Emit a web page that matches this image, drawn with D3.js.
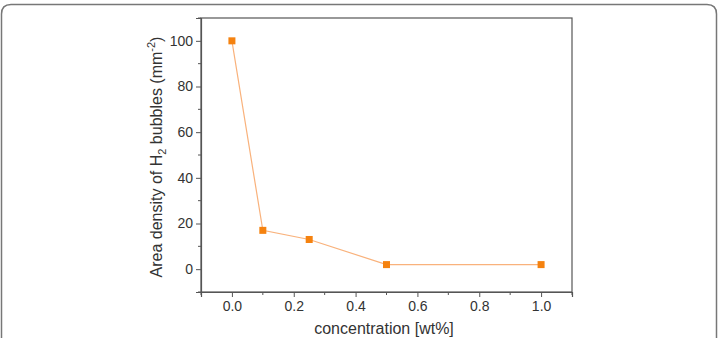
<!DOCTYPE html>
<html>
<head lang="en">
    <meta charset="UTF-8">
    <title>d3</title>
    <style>
        body { margin: 0; background: #fff; }
        text { font-family: "Liberation Sans", Arial, sans-serif; fill: #333; }
    </style>
</head>
<body>
<svg width="719" height="338"></svg>

<script src="https://cdn.jsdelivr.net/npm/d3@7"></script>
<script>
    var concentration = [0, 0.1, 0.25, 0.5, 1.0];
    var density = [100, 17, 13, 2, 2];
    var xTicks = [0, 0.2, 0.4, 0.6, 0.8, 1.0];
    var yTicks = [0, 20, 40, 60, 80, 100];

    var svg = d3.select("svg");

    // outer panel frame with rounded top corners
    svg.append("path")
            .attr("d", "M1.5,345 L1.5,14 Q1.5,4.5 11,4.5 L707,4.5 Q716.5,4.5 716.5,14 L716.5,345")
            .attr("fill", "none")
            .attr("stroke", "#777")
            .attr("stroke-width", 1.5);

    var pLeft = 201, pTop = 18, pRight = 572, pBottom = 292;

    var x = d3.scaleLinear().domain([-0.1, 1.1]).range([pLeft, pRight]);
    var y = d3.scaleLinear().domain([-10, 110]).range([pBottom, pTop]);

    // frame
    svg.append("rect")
            .attr("x", pLeft).attr("y", pTop)
            .attr("width", pRight - pLeft).attr("height", pBottom - pTop)
            .attr("fill", "none").attr("stroke", "#555").attr("stroke-width", 1.2);

    var xAxis = d3.axisBottom(x).tickValues(xTicks).tickFormat(d3.format(".1f")).tickSize(5).tickPadding(4);
    var yAxis = d3.axisLeft(y).tickValues(yTicks).tickFormat(d3.format("d")).tickSize(5).tickPadding(3);

    var gx = svg.append("g").attr("transform", "translate(0," + pBottom + ")").call(xAxis);
    var gy = svg.append("g").attr("transform", "translate(" + pLeft + ",0)").call(yAxis);

    // minor ticks
    gx.selectAll(".minor").data(d3.range(-0.1, 1.15, 0.2)).enter().append("line")
            .attr("x1", function (d) { return x(d); }).attr("x2", function (d) { return x(d); })
            .attr("y1", 0).attr("y2", 3).attr("stroke", "#555");
    gy.selectAll(".minor").data(d3.range(-10, 115, 20)).enter().append("line")
            .attr("y1", function (d) { return y(d); }).attr("y2", function (d) { return y(d); })
            .attr("x1", 0).attr("x2", -3).attr("stroke", "#555");

    [gx, gy].forEach(function (g) {
        g.select(".domain").attr("stroke", "#555").attr("stroke-width", 1.2);
        g.selectAll(".tick line").attr("stroke", "#555");
        g.selectAll(".tick text").attr("font-size", "14px").style("fill", "#333")
                .attr("font-family", "Liberation Sans, Arial, sans-serif");
    });

    var pts = concentration.map(function (c, i) { return [c, density[i]]; });

    svg.append("path")
            .datum(pts)
            .attr("fill", "none")
            .attr("stroke", "#f9b27c")
            .attr("stroke-width", 1.2)
            .attr("d", d3.line().x(function (d) { return x(d[0]); }).y(function (d) { return y(d[1]); }));

    svg.selectAll(".pt").data(pts).enter().append("rect")
            .attr("x", function (d) { return x(d[0]) - 3.5; })
            .attr("y", function (d) { return y(d[1]) - 3.5; })
            .attr("width", 7).attr("height", 7)
            .attr("fill", "#f5820f");

    svg.append("text")
            .attr("x", 384).attr("y", 334)
            .attr("text-anchor", "middle").attr("font-size", "16px")
            .text("concentration [wt%]");

    var yl = svg.append("text")
            .attr("transform", "translate(162,157) rotate(-90)")
            .attr("text-anchor", "middle").attr("font-size", "16px");
    yl.append("tspan").text("Area density of H");
    yl.append("tspan").attr("font-size", "11px").attr("dy", 4).text("2");
    yl.append("tspan").attr("dy", -4).text(" bubbles (mm");
    yl.append("tspan").attr("font-size", "11px").attr("dy", -7).text("-2");
    yl.append("tspan").attr("dy", 7).text(")");
</script>
</body>
</html>
